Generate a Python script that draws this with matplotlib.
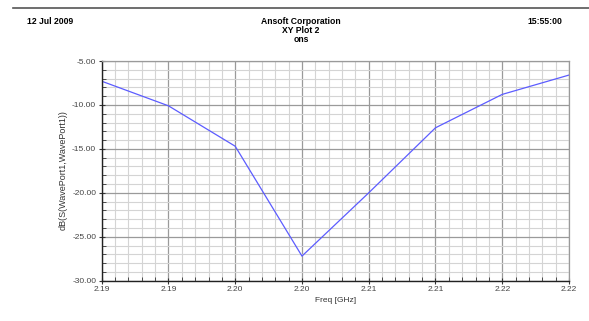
import matplotlib
matplotlib.use("Agg")
import matplotlib.pyplot as plt
import numpy as np
from matplotlib.ticker import MultipleLocator, FixedLocator, FixedFormatter

plt.rcParams['font.family'] = ['Liberation Sans', 'DejaVu Sans']

# sweep points (GHz) and S11 in dB
freq_ghz = [2.1875, 2.1925, 2.1975, 2.2025, 2.2075, 2.2125, 2.2175, 2.2225]
s11_db = [-7.3, -10.1, -14.7, -27.2, -20.0, -12.6, -8.8, -6.6]
x_tick_labels = ["2.19", "2.19", "2.20", "2.20", "2.21", "2.21", "2.22", "2.22"]
y_ticks = [-30, -25, -20, -15, -10, -5]

W, H = 589, 321
fig = plt.figure(figsize=(W / 100, H / 100), dpi=100)
ax = fig.add_axes([101.7 / W, 1 - 280.7 / H, (569 - 101.7) / W, (280.7 - 61) / H])

ax.plot(freq_ghz, s11_db, color='#5c5cff', lw=0.9)

ax.set_xlim(freq_ghz[0], freq_ghz[-1])
ax.set_ylim(-30, -5)

ax.xaxis.set_major_locator(FixedLocator(freq_ghz))
ax.xaxis.set_major_formatter(FixedFormatter(x_tick_labels))
ax.xaxis.set_minor_locator(MultipleLocator(0.001, offset=0.0005))
ax.set_yticks(y_ticks)
ax.set_yticklabels(["%.2f" % v for v in y_ticks])
ax.yaxis.set_minor_locator(MultipleLocator(1))

ax.grid(which='major', color='#9a9a9a', lw=0.9)
ax.grid(which='minor', color='#d4d4d4', lw=0.8)
ax.set_axisbelow(True)

ax.tick_params(which='major', direction='inout', length=5, width=0.8,
               labelsize=6, labelcolor='#444444', color='#333333', pad=1.5)
ax.tick_params(which='minor', direction='in', length=3, width=0.6, color='#333333')
ax.tick_params(axis='y', which='both', right=False)

for side in ['top', 'right']:
    ax.spines[side].set_color('#9a9a9a')
    ax.spines[side].set_linewidth(0.9)
for side in ['left', 'bottom']:
    ax.spines[side].set_color('#222222')
    ax.spines[side].set_linewidth(1.0)

ax.set_xlabel("Freq [GHz]", fontsize=6, color='#333333', labelpad=3)
fig.text(63 / W, 1 - 170 / H, "dB(S(WavePort1,WavePort1))", rotation=90,
         fontsize=6.5, color='#333333', ha='center', va='center')

# header like the Ansoft report
fig.add_artist(plt.Line2D([13 / W, 1], [1 - 7.5 / H, 1 - 7.5 / H], color='#555555', lw=1.2))
hdr = dict(fontsize=6.2, weight='bold', va='center')
fig.text(27 / W, 1 - 21 / H, "12 Jul 2009", ha='left', **hdr)
fig.text(301 / W, 1 - 21 / H, "Ansoft Corporation", ha='center', **hdr)
fig.text(301 / W, 1 - 30.7 / H, "XY Plot 2", ha='center', **hdr)
fig.text(301 / W, 1 - 40 / H, "ons", ha='center', **hdr)
fig.text(562 / W, 1 - 21 / H, "15:55:00", ha='right', **hdr)

fig.savefig("out.png", dpi=100)
